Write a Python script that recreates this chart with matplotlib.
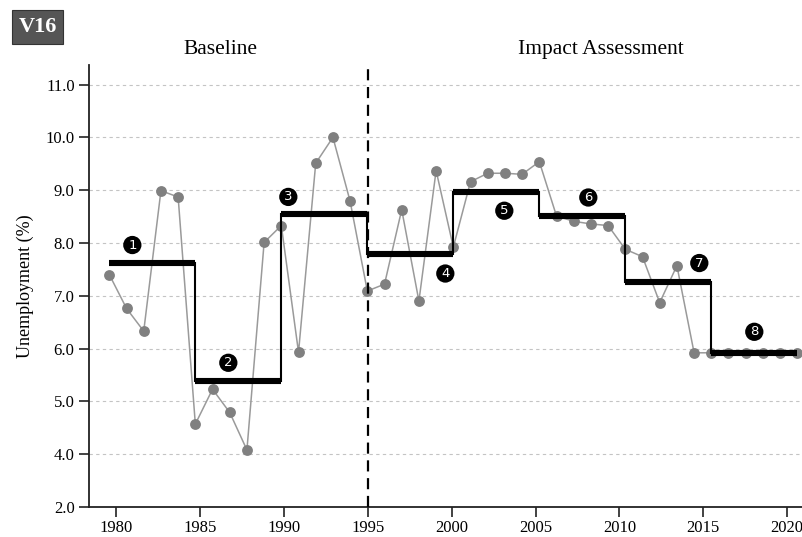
import matplotlib
matplotlib.use("Agg")
import matplotlib.pyplot as plt
import numpy as np

plt.rcParams['font.family'] = ['Liberation Serif', 'DejaVu Serif']

# data
years = list(range(1980, 2021))
unemp = [7.40, 6.76, 6.33, 8.99, 8.87, 4.57, 5.23, 4.79, 4.08, 8.01,
         8.33, 5.93, 9.51, 10.00, 8.79, 7.09, 7.22, 8.63, 6.90, 9.37,
         7.92, 9.16, 9.32, 9.32, 9.30, 9.54, 8.51, 8.41, 8.36, 8.33,
         7.88, 7.74, 6.87, 7.57, 5.92, 5.92, 5.92, 5.92, 5.92, 5.92, 5.92]
phase_edges = [1980, 1985, 1990, 1995, 2000, 2005, 2010, 2015, 2020]
phase_means = [7.62, 5.39, 8.55, 7.80, 8.97, 8.52, 7.26, 5.92]
phase_labels = ['1', '2', '3', '4', '5', '6', '7', '8']
section_names = ['Baseline', 'Impact Assessment']
ytick_vals = [3, 4, 5, 6, 7, 8, 9, 10, 11]
ytick_labels = ['2.0', '4.0', '5.0', '6.0', '7.0', '8.0', '9.0', '10.0', '11.0']
xtick_vals = [1980, 1985, 1990, 1995, 2000, 2005, 2010, 2015, 2020]
split_year = 1995

# points sit on a slightly stretched scale vs. the tick axis
def pos(y):
    return 1979.6 + (np.asarray(y) - 1980) * 1.025

fig = plt.figure(figsize=(8.03, 5.37), dpi=100)
ax = fig.add_axes([89.2 / 803, 30 / 537, 1 - 89.2 / 803, (507 - 65) / 537])

ax.set_xlim(1978.4, 2020.94)
ax.set_ylim(3.0, 11.37)

for v in ytick_vals[1:]:
    ax.axhline(v, color='#c4c4c4', lw=0.8, ls=(0, (3, 3)), zorder=0)

ax.plot(pos(years), unemp, color='#9a9a9a', lw=1.1, zorder=2)
ax.plot(pos(years), unemp, 'o', color='#808080', ms=7.8, mec='none', zorder=3)

# phase mean steps
px = pos(phase_edges)
for i, m in enumerate(phase_means):
    ax.plot([px[i], px[i + 1]], [m, m], color='black', lw=4.4,
            solid_capstyle='butt', zorder=4)
    if i > 0:
        ax.plot([px[i], px[i]], [phase_means[i - 1], m], color='black', lw=1.5, zorder=4)

# numbered badges (pixel offsets from segment middle)
badge_off = [(-20, 18), (-10, 18), (-36, 17), (35, -20),
             (8, -19), (6, 18), (31, 19), (0, 21)]
for i, lab in enumerate(phase_labels):
    cx = (px[i] + px[i + 1]) / 2
    ax.annotate(lab, (cx, phase_means[i]), xytext=badge_off[i],
                textcoords='offset pixels', ha='center', va='center',
                color='white', fontsize=9.5, family='DejaVu Sans',
                bbox=dict(boxstyle='circle,pad=0.2', fc='black', ec='none'),
                zorder=6)

ax.axvline(split_year, color='black', lw=1.6, ls=(0, (5, 3)), zorder=5)

ax.set_yticks(ytick_vals)
ax.set_yticklabels(ytick_labels)
ax.set_xticks(xtick_vals)
ax.tick_params(axis='both', direction='out', length=7.5, width=1.2,
               labelsize=12, pad=3, color='#222222')
ax.tick_params(axis='x', pad=1.5)
for s in ['top', 'right']:
    ax.spines[s].set_visible(False)
for s in ['left', 'bottom']:
    ax.spines[s].set_linewidth(1.3)
    ax.spines[s].set_color('#222222')
ax.set_ylabel('Unemployment (%)', fontsize=13, labelpad=8)

trans = ax.get_xaxis_transform()
ax.text(1986.2, 1.035, section_names[0], transform=trans, ha='center', va='center',
        fontsize=15.5, clip_on=False)
ax.text(2008.9, 1.035, section_names[1], transform=trans, ha='center', va='center',
        fontsize=15.5, clip_on=False)

fig.text(37.5 / 803, 1 - 27 / 537, 'V16', ha='center', va='center', color='white',
         fontsize=16, fontweight='bold',
         bbox=dict(boxstyle='square,pad=0.3', fc='#555555', ec='#333333', lw=0.8))

fig.savefig('out.png', dpi=100)
